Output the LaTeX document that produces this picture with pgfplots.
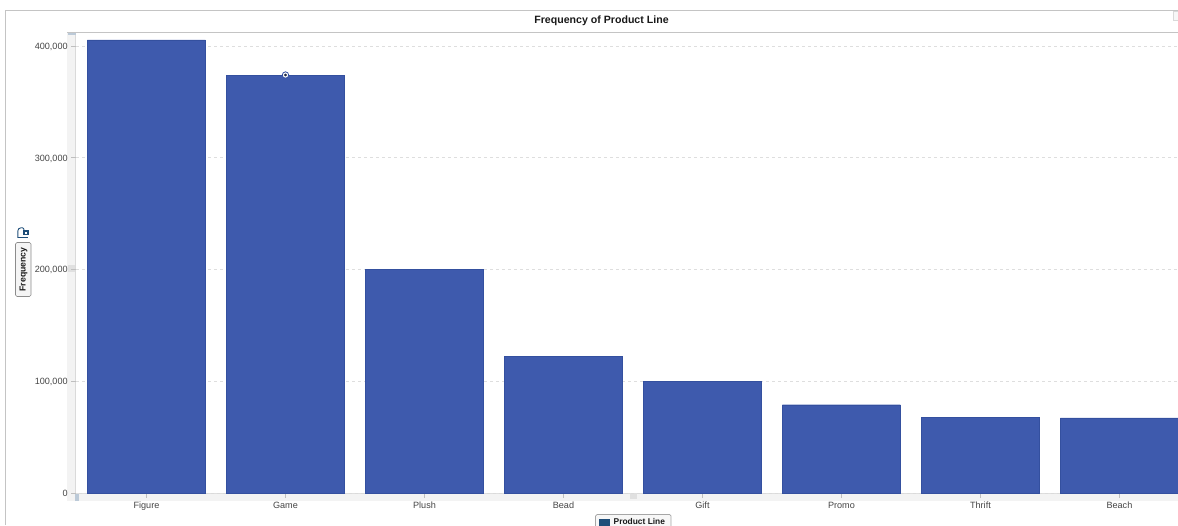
\documentclass[border=0pt]{standalone}
\usepackage{fontspec}
\setmainfont{Liberation Sans}
\usepackage{pgfplots}
\pgfplotsset{compat=1.18}
\definecolor{barfill}{HTML}{3E5AAD}
\definecolor{baredge}{HTML}{34509F}
\definecolor{frameline}{HTML}{C4C4C4}
\definecolor{stripfill}{HTML}{F3F3F3}
\definecolor{stripline}{HTML}{DADADA}
\definecolor{handle}{HTML}{BCCAD8}
\definecolor{ticktext}{HTML}{444444}
\definecolor{iconblue}{HTML}{1F4E79}
\begin{document}
\begin{tikzpicture}[x=1pt,y=1pt]
  % page area and clip, in a top-left pixel grid flipped to y-up
  \path[use as bounding box] (0,0) rectangle (1178,525);
  \clip (0,0) rectangle (1178,525);
  % outer panel frame
  \draw[frameline,line width=1pt] (5.5,0) -- (5.5,514.5) -- (1178,514.5);
  % scroll strips beside the axes
  \fill[stripfill] (67,24) rectangle (76,493);
  \draw[stripline,line width=0.8pt] (75.5,24) -- (75.5,493);
  \fill[stripfill] (76,24) rectangle (1178,32);
  \draw[stripline,line width=0.8pt] (76,31.5) -- (1178,31.5);
  \fill[handle] (68,490) rectangle (76,493);
  \fill[handle] (75,24) rectangle (79,32);
  \fill[black!12] (68,253) rectangle (75,260);
  \fill[black!12] (630,26) rectangle (637,31);
  \begin{axis}[
      at={(76pt,32pt)}, anchor=south west,
      scale only axis, width=1102pt, height=461pt,
      xmin=-0.5072, xmax=7.4209, ymin=0, ymax=412500,
      axis line style={draw=none},
      clip=true,
      xtick={0,1,2,3,4,5,6,7},
      xticklabels={Figure,Game,Plush,Bead,Gift,Promo,Thrift,Beach},
      ytick={0,100000,200000,300000,400000},
      yticklabels={0,{100,000},{200,000},{300,000},{400,000}},
      scaled y ticks=false,
      tick align=outside,
      major tick length=5pt,
      tick style={draw=black!25,line width=0.6pt},
      xtick pos=lower, ytick pos=left,
      xticklabel style={yshift=-0.5pt},
      yticklabel style={xshift=0.2pt,yshift=-0.8pt},
      tick label style={font=\fontsize{9.1}{10}\selectfont,text=ticktext},
      ymajorgrids,
      grid style={dashed,draw=black!13,line width=0.6pt},
    ]
    \addplot[ybar,bar width=118pt,bar shift=0pt,fill=barfill,draw=baredge,line width=0.4pt]
      coordinates {(0,405500) (1,374000) (2,200200) (3,122400)
                   (4,100000) (5,79000) (6,68000) (7,67200)};
    % highlighted data tip on the second bar
    \addplot[only marks,mark=*,mark size=3.2pt,
             mark options={fill=white,draw=baredge,line width=0.8pt}]
      coordinates {(1,374000)};
    \addplot[only marks,mark=*,mark size=1.1pt,
             mark options={fill=baredge,draw=none}]
      coordinates {(1,374000)};
  \end{axis}
  % title band
  \draw[frameline,line width=1pt] (67,492.5) -- (1178,492.5);
  \node[font=\bfseries\fontsize{10.6}{12}\selectfont,text=black!90] at (601.5,504.2) {Frequency of Product Line};
  \draw[black!15,fill=black!3,line width=0.6pt] (1173.5,505) rectangle (1180,514);
  % y axis role button with its lock icon
  \draw[black!45,fill=black!4,rounded corners=1.5pt,line width=0.7pt] (15.5,228.5) rectangle (31,282.5);
  \node[rotate=90,font=\bfseries\fontsize{8.7}{10}\selectfont,text=black!90] at (23.5,255.5) {Frequency};
  \draw[iconblue,line width=0.9pt] (17.8,287) -- (17.8,294) to[out=90,in=180] (21,297.2) -- (22.5,297.2) to[out=0,in=90] (24,294.5);
  \fill[iconblue] (22.5,289.5) rectangle (29,294.5);
  \fill[white] (25,291) rectangle (26.5,292.5);
  \draw[iconblue,line width=0.8pt] (17.8,287.4) -- (28,287.4);
  % x axis role button, cut off by the page edge
  \draw[black!35,fill=black!3,rounded corners=1.5pt,line width=0.7pt] (595.5,-4) rectangle (671,10.5);
  \fill[iconblue] (599,-2) rectangle (609.5,6);
  \node[anchor=west,font=\bfseries\fontsize{8.4}{10}\selectfont,text=black!90,inner sep=0pt] at (613.5,3.5) {Product Line};
\end{tikzpicture}
\end{document}
